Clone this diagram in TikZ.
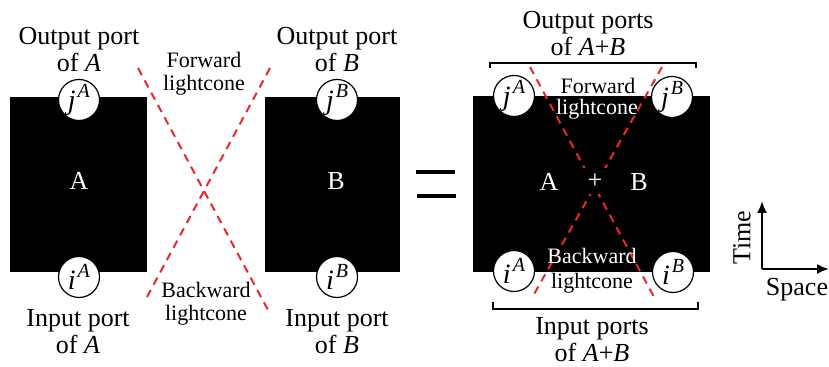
\documentclass[tikz,border=0pt]{standalone}
\usepackage{fontspec}
\setmainfont{Liberation Serif}
\usetikzlibrary{arrows.meta}
\definecolor{conered}{RGB}{232, 40, 45}
\newcommand{\portsup}[2]{\textit{#1}\hspace{1pt}\raisebox{0.42em}{\fontsize{10}{10}\selectfont\textit{#2}}}

\begin{document}
\begin{tikzpicture}[x=0.5pt, y=-0.5pt,
    port/.style={circle, draw, fill=white, line width=0.6pt,
                 minimum size=20.5pt, inner sep=0pt,
                 font=\fontsize{14}{14}\selectfont},
    desc/.style={align=center, inner sep=0pt, font=\fontsize{13}{13.5}\selectfont},
    conetext/.style={align=center, inner sep=0pt, font=\fontsize{11}{11.5}\selectfont},
    cone/.style={conered, line width=1pt, dash pattern=on 4pt off 3pt},
    bracket/.style={line width=1pt},
    axis/.style={line width=1pt, -{Latex[length=6pt, width=5pt]}}]
    \useasboundingbox (0,0) rectangle (829,367);
    % Blocks
    \fill (10,97) rectangle (147,272);
    \fill (265,97) rectangle (400,272);
    \fill (473,96) rectangle (710,272);
    % Lightcones of the separate blocks
    \coordinate (fa) at (138,68);  \coordinate (bb) at (268,310);
    \coordinate (fb) at (270,68);  \coordinate (ba) at (147,297);
    \draw[cone] (fa) -- (bb);
    \draw[cone] (fb) -- (ba);
    % Lightcones of the joint block
    \coordinate (fab) at (530,67); \coordinate (bab) at (654,297);
    \coordinate (fba) at (662,67); \coordinate (bba) at (533,296);
    \draw[cone] (fab) -- (bab);
    \draw[cone] (fba) -- (bba);
    % Ports
    \node[port] (jA) at (79,100) {\portsup{j}{A}};
    \node[port] (iA) at (79,277) {\portsup{i}{A}};
    \node[port] (jB) at (337,100) {\portsup{j}{B}};
    \node[port] (iB) at (337,277) {\portsup{i}{B}};
    \node[port] (jAB) at (514,96) {\portsup{j}{A}};
    \node[port] (iAB) at (514,271) {\portsup{i}{A}};
    \node[port] (jBA) at (672,97) {\portsup{j}{B}};
    \node[port] (iBA) at (673,272) {\portsup{i}{B}};
    % Block names
    \node[desc, white] (nA) at (79,181) {A};
    \node[desc, white] (nB) at (336,181) {B};
    \node[desc, white] (nAB) at (549,182) {A};
    \node[desc, white, fill=black, inner sep=3pt] (plus) at (595,181) {+};
    \node[desc, white] (nBA) at (639,182) {B};
    % Port captions
    \node[desc] (outA) at (79,50) {Output port\\of \textit{A}};
    \node[desc] (outB) at (337,50) {Output port\\of \textit{B}};
    \node[desc] (inA) at (78,332) {Input port\\of \textit{A}};
    \node[desc] (inB) at (337,332) {Input port\\of \textit{B}};
    \node[desc] (outAB) at (588,34) {Output ports\\of \textit{A}+\textit{B}};
    \node[desc] (inAB) at (592,340) {Input ports\\of \textit{A}+\textit{B}};
    % Lightcone captions
    \node[conetext] (fwd) at (204,74) {Forward\\lightcone};
    \node[conetext] (bwd) at (206,304) {Backward\\lightcone};
    \node[conetext] (fwdAB) at (598,86) {Forward};
    \node[conetext, white] (fwdABb) at (597,109) {lightcone};
    \node[conetext, white] (bwdAB) at (592,256) {Backward};
    \node[conetext] (bwdABb) at (592,283) {lightcone};
    % Brackets
    \coordinate (otl) at (490,68); \coordinate (otr) at (696,68);
    \draw[bracket] (otl) -- ++(0,-5) -| (otr);
    \coordinate (ibl) at (493,302); \coordinate (ibr) at (698,302);
    \draw[bracket] (ibl) -- ++(0,7) -| (ibr);
    % Equals sign
    \draw[line width=2pt] (416,172) -- (455,172);
    \draw[line width=2pt] (417,196) -- (456,196);
    % Axes
    \coordinate (origin) at (762,269);
    \coordinate (tend) at (762,201);
    \coordinate (send) at (829,269);
    \draw[axis] (origin) -- (tend);
    \draw[axis] (origin) -- (send);
    \node[desc, rotate=90] (time) at (742,238) {Time};
    \node[desc] (space) at (797,290) {Space};
\end{tikzpicture}
\end{document}
